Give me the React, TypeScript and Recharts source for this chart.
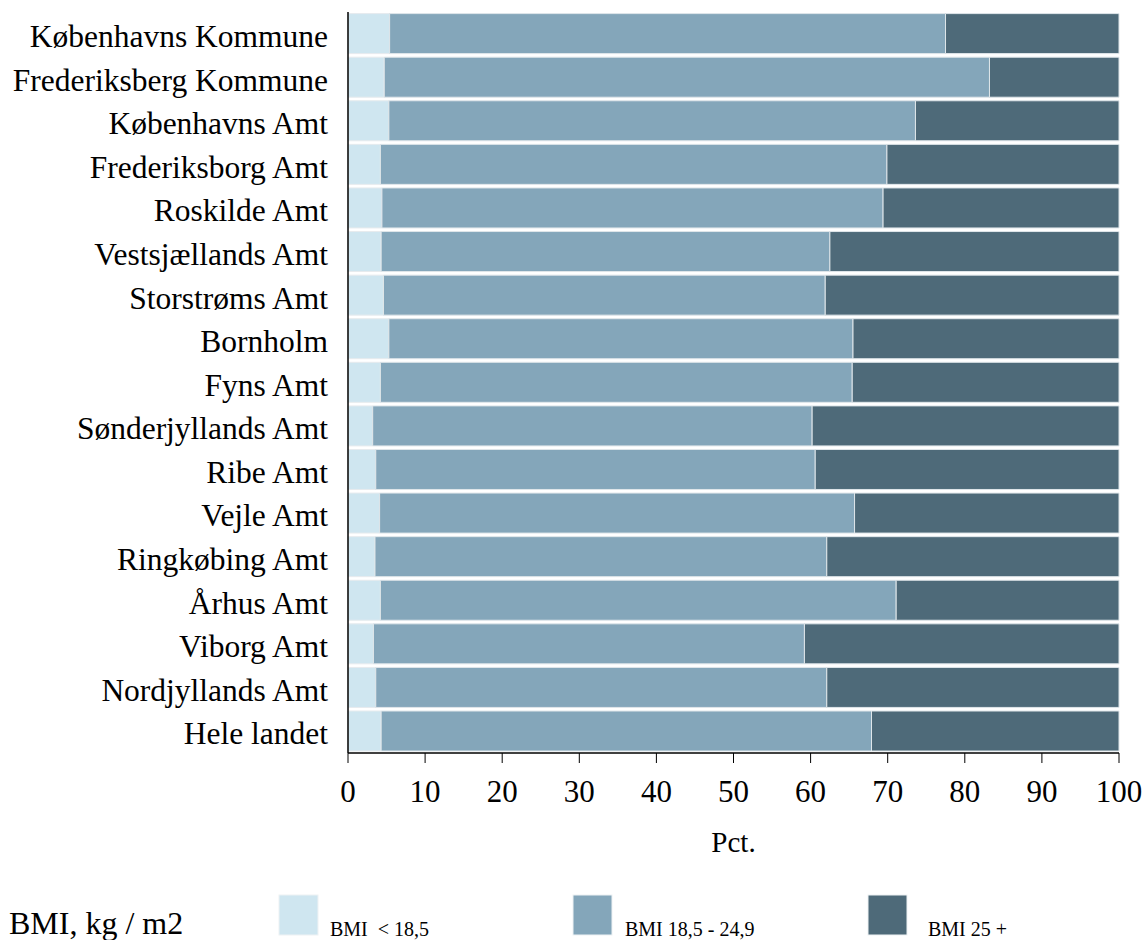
import React from 'react';
import { BarChart, Bar, XAxis, YAxis, Legend } from 'recharts';

const categories = [
  'Københavns Kommune', 'Frederiksberg Kommune', 'Københavns Amt', 'Frederiksborg Amt',
  'Roskilde Amt', 'Vestsjællands Amt', 'Storstrøms Amt', 'Bornholm', 'Fyns Amt',
  'Sønderjyllands Amt', 'Ribe Amt', 'Vejle Amt', 'Ringkøbing Amt', 'Århus Amt',
  'Viborg Amt', 'Nordjyllands Amt', 'Hele landet',
];
const under185 = [5.4, 4.7, 5.3, 4.2, 4.4, 4.3, 4.6, 5.3, 4.2, 3.2, 3.6, 4.1, 3.5, 4.2, 3.3, 3.6, 4.3];
const normal = [72.1, 78.5, 68.3, 65.7, 65.0, 58.2, 57.3, 60.2, 61.2, 57.0, 57.0, 61.6, 58.6, 66.9, 55.9, 58.5, 63.6];
const over25 = [22.5, 16.8, 26.4, 30.1, 30.6, 37.5, 38.1, 34.5, 34.6, 39.8, 39.4, 34.3, 37.9, 28.9, 40.8, 37.9, 32.1];
const xTicks = [0, 10, 20, 30, 40, 50, 60, 70, 80, 90, 100];
const seriesNames = ['BMI  < 18,5', 'BMI 18,5 - 24,9', 'BMI 25 +'];
const legendTitle = 'BMI, kg / m2';

const data = categories.map((name, i) => ({
  name,
  a: under185[i],
  b: normal[i],
  c: over25[i],
}));

const FONT = "'Liberation Serif', 'Times New Roman', serif";
const COLORS = ['#cfe6f0', '#84a6ba', '#4e6a79'];

const LegendContent = (props: any) => {
  const payload = props.payload || [];
  const swatchX = [279, 573, 868];
  const labelX = [330, 625, 928];
  return (
    <svg width={1146} height={60} style={{ display: 'block' }}>
      <text x={9} y={54} fontFamily={FONT} fontSize={32} fill="#000">{legendTitle}</text>
      {payload.map((p: any, i: number) => (
        <g key={i}>
          <rect x={swatchX[i]} y={15} width={39} height={40} fill={p.color} stroke="#eef2f4" strokeWidth={1} />
          <text x={labelX[i]} y={56} fontFamily={FONT} fontSize={20} fill="#000" style={{ whiteSpace: 'pre' }}>{p.value}</text>
        </g>
      ))}
    </svg>
  );
};

export default function App() {
  return (
    <div style={{ position: 'absolute', left: 0, top: 0, width: 1146, height: 940, overflow: 'hidden', background: '#fff' }}>
      <BarChart
        width={1146}
        height={940}
        data={data}
        layout="vertical"
        margin={{ top: 12, right: 27, left: 0, bottom: 127 }}
        barCategoryGap={1.6}
      >
        <XAxis
          type="number"
          domain={[0, 100]}
          ticks={xTicks}
          interval={0}
          height={60}
          axisLine={{ stroke: '#000', strokeWidth: 1.5 }}
          tickLine={{ stroke: '#000' }}
          tickSize={10}
          tickMargin={17}
          tick={{ fontFamily: FONT, fontSize: 31, fill: '#000' }}
          label={{ value: 'Pct.', position: 'bottom', offset: 18, fontFamily: FONT, fontSize: 29, fill: '#000' }}
        />
        <YAxis
          type="category"
          dataKey="name"
          width={348}
          interval={0}
          axisLine={{ stroke: '#000', strokeWidth: 1.5 }}
          tickLine={false}
          tickMargin={14}
          tick={{ fontFamily: FONT, fontSize: 31.5, fill: '#000', dy: 2 }}
        />
        <Legend
          layout="horizontal"
          verticalAlign="middle"
          align="center"
          wrapperStyle={{ left: 0, top: 880, width: 1146, height: 60 }}
          content={<LegendContent />}
        />
        <Bar dataKey="a" name={seriesNames[0]} stackId="s" fill={COLORS[0]} stroke="#e6ebee" strokeWidth={1} isAnimationActive={false} />
        <Bar dataKey="b" name={seriesNames[1]} stackId="s" fill={COLORS[1]} stroke="#dfe6ea" strokeWidth={1} isAnimationActive={false} />
        <Bar dataKey="c" name={seriesNames[2]} stackId="s" fill={COLORS[2]} stroke="#dfe6ea" strokeWidth={1} isAnimationActive={false} />
      </BarChart>
    </div>
  );
}
